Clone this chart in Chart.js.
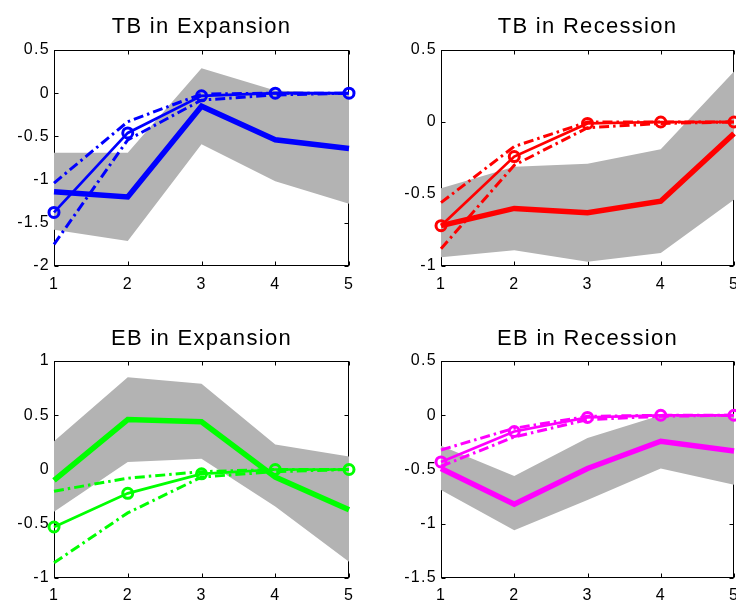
<!DOCTYPE html>
<html><head><meta charset="utf-8">
<script src="https://cdn.jsdelivr.net/npm/chart.js@4/dist/chart.umd.min.js"></script>
<style>
html,body{margin:0;padding:0;background:#fff;overflow:hidden;width:736px;height:601px;position:relative}
canvas{position:absolute}
</style></head><body>
<canvas id="c1" width="368" height="300" style="left:0px;top:0px"></canvas>
<canvas id="c2" width="400" height="300" style="left:366px;top:0px"></canvas>
<canvas id="c3" width="368" height="340" style="left:0px;top:300px"></canvas>
<canvas id="c4" width="400" height="340" style="left:366px;top:300px"></canvas>
<script>
const horizons = [1, 2, 3, 4, 5];

// TB in Expansion
const tbExpMean     = [-1.14, -1.20, -0.15, -0.54, -0.64];
const tbExpLow      = [-1.58, -1.71, -0.59, -1.02, -1.28];
const tbExpHigh     = [-0.69, -0.69,  0.29,  0.03,  0.00];
const tbExpCirc     = [-1.38, -0.46, -0.03,  0.00,  0.00];
const tbExpDashHigh = [-1.04, -0.33, -0.01,  0.00,  0.00];
const tbExpDashLow  = [-1.75, -0.54, -0.08, -0.02,  0.00];
const tbExpTicks    = [-2, -1.5, -1, -0.5, 0, 0.5];

// TB in Recession
const tbRecMean     = [-0.72, -0.60, -0.63, -0.55, -0.08];
const tbRecLow      = [-0.94, -0.89, -0.97, -0.91, -0.54];
const tbRecHigh     = [-0.46, -0.31, -0.29, -0.19,  0.35];
const tbRecCirc     = [-0.72, -0.24, -0.01,  0.00,  0.00];
const tbRecDashHigh = [-0.56, -0.17,  0.00,  0.00,  0.00];
const tbRecDashLow  = [-0.88, -0.30, -0.04, -0.01,  0.00];
const tbRecTicks    = [-1, -0.5, 0, 0.5];

// EB in Expansion
const ebExpMean     = [-0.10,  0.46,  0.44, -0.07, -0.37];
const ebExpLow      = [-0.39,  0.07,  0.10, -0.34, -0.85];
const ebExpHigh     = [ 0.26,  0.85,  0.79,  0.23,  0.12];
const ebExpCirc     = [-0.53, -0.22, -0.04,  0.00,  0.00];
const ebExpDashHigh = [-0.20, -0.08, -0.02,  0.00,  0.00];
const ebExpDashLow  = [-0.86, -0.40, -0.07, -0.02,  0.00];
const ebExpTicks    = [-1, -0.5, 0, 0.5, 1];

// EB in Recession
const ebRecMean     = [-0.49, -0.82, -0.49, -0.24, -0.33];
const ebRecLow      = [-0.69, -1.06, -0.78, -0.49, -0.64];
const ebRecHigh     = [-0.28, -0.56, -0.21,  0.00,  0.00];
const ebRecCirc     = [-0.43, -0.15, -0.02,  0.00,  0.00];
const ebRecDashHigh = [-0.32, -0.12, -0.01,  0.00,  0.00];
const ebRecDashLow  = [-0.47, -0.20, -0.04, -0.01,  0.00];
const ebRecTicks    = [-1.5, -1, -0.5, 0, 0.5];

const FONT = "'Liberation Sans', Arial, Helvetica, sans-serif";
Chart.defaults.font.family = FONT;
Chart.defaults.color = '#000';

const pts = arr => arr.map((v, i) => ({x: horizons[i], y: v}));

const spacingPlugin = {
  id: 'spacing',
  beforeLayout(c) { c.ctx.letterSpacing = '1.3px'; },
  beforeDraw(c) { c.ctx.letterSpacing = '1.3px'; }
};

const boxPlugin = {
  id: 'box',
  beforeDatasetsDraw(chart) {
    const ctx = chart.ctx, a = chart.chartArea;
    const xs = chart.scales.x, ys = chart.scales.y;
    const L = Math.round(a.left) + 0.5, R = Math.round(a.right) - 0.5;
    const T = Math.round(a.top) + 0.5, B = Math.round(a.bottom) - 0.5;
    ctx.save();
    ctx.strokeStyle = '#000';
    ctx.lineWidth = 1;
    ctx.strokeRect(L, T, R - L, B - T);
    ctx.beginPath();
    ys.ticks.forEach(t => {
      const p = Math.round(ys.getPixelForValue(t.value)) + 0.5;
      ctx.moveTo(L, p); ctx.lineTo(L + 4, p);
      ctx.moveTo(R, p); ctx.lineTo(R - 4, p);
    });
    xs.ticks.forEach(t => {
      const p = Math.round(xs.getPixelForValue(t.value)) + 0.5;
      ctx.moveTo(p, B); ctx.lineTo(p, B - 4);
      ctx.moveTo(p, T); ctx.lineTo(p, T + 4);
    });
    ctx.stroke();
    ctx.restore();
  }
};

function makeChart(id, title, color, d, yTicks, geo) {
  const dash = [10, 4, 2.5, 4];
  new Chart(document.getElementById(id), {
    type: 'line',
    data: {
      datasets: [
        {data: pts(d.circ), borderColor: color, borderWidth: 2.7, pointRadius: 5,
         pointBorderWidth: 3, pointBorderColor: color, pointBackgroundColor: 'rgba(0,0,0,0)',
         pointHoverRadius: 0, order: 1, clip: false, fill: false},
        {data: pts(d.dashHigh), borderColor: color, borderWidth: 3, borderDash: dash,
         pointRadius: 0, order: 2, clip: false, fill: false},
        {data: pts(d.dashLow), borderColor: color, borderWidth: 3, borderDash: dash,
         pointRadius: 0, order: 2, clip: false, fill: false},
        {data: pts(d.mean), borderColor: color, borderWidth: 5.5, pointRadius: 0,
         order: 3, clip: false, fill: false},
        {data: pts(d.low), borderWidth: 0, borderColor: 'rgba(0,0,0,0)', pointRadius: 0,
         order: 10, fill: false},
        {data: pts(d.high), borderWidth: 0, borderColor: 'rgba(0,0,0,0)', pointRadius: 0,
         order: 9, fill: '-1', backgroundColor: '#b3b3b3'}
      ]
    },
    options: {
      responsive: false,
      animation: false,
      devicePixelRatio: 1,
      events: [],
      layout: {padding: {left: 0, top: 0, bottom: 0, right: geo.padRight}},
      plugins: {
        legend: {display: false},
        tooltip: {enabled: false},
        title: {display: true, text: title, fullSize: false, color: '#000',
                font: {size: 22, weight: 'normal', family: FONT},
                padding: {top: geo.tTop, bottom: geo.tBottom}}
      },
      scales: {
        x: {
          type: 'linear', min: 1, max: 5,
          grid: {display: false, drawTicks: false, tickLength: 0}, border: {display: false},
          afterBuildTicks: s => { s.ticks = horizons.map(v => ({value: v})); },
          afterFit: s => { s.height = geo.xHeight; },
          ticks: {font: {size: 16, family: FONT}, color: '#000', padding: geo.xPad,
                  maxRotation: 0, autoSkip: false, callback: v => String(v)}
        },
        y: {
          type: 'linear', min: yTicks[0], max: yTicks[yTicks.length - 1],
          grid: {display: false, drawTicks: false, tickLength: 0}, border: {display: false},
          afterBuildTicks: s => { s.ticks = yTicks.map(v => ({value: v})); },
          afterFit: s => { s.width = geo.yWidth; },
          ticks: {font: {size: 16, family: FONT}, color: '#000', padding: 4,
                  autoSkip: false, callback: v => String(v)}
        }
      }
    },
    plugins: [spacingPlugin, boxPlugin]
  });
}

const topGeoL = {yWidth: 54, xHeight: 34, padRight: 19, tTop: 13.8, tBottom: 9.8, xPad: 9};
const topGeoR = {yWidth: 75, xHeight: 34, padRight: 32, tTop: 13.8, tBottom: 9.8, xPad: 9};
const botGeoL = {yWidth: 54, xHeight: 62, padRight: 19, tTop: 25.8, tBottom: 8.8, xPad: 8};
const botGeoR = {yWidth: 75, xHeight: 62, padRight: 32, tTop: 25.8, tBottom: 8.8, xPad: 8};

makeChart('c1', 'TB in Expansion', '#0000ff',
  {mean: tbExpMean, low: tbExpLow, high: tbExpHigh, circ: tbExpCirc, dashHigh: tbExpDashHigh, dashLow: tbExpDashLow},
  tbExpTicks, topGeoL);
makeChart('c2', 'TB in Recession', '#ff0000',
  {mean: tbRecMean, low: tbRecLow, high: tbRecHigh, circ: tbRecCirc, dashHigh: tbRecDashHigh, dashLow: tbRecDashLow},
  tbRecTicks, topGeoR);
makeChart('c3', 'EB in Expansion', '#00ff00',
  {mean: ebExpMean, low: ebExpLow, high: ebExpHigh, circ: ebExpCirc, dashHigh: ebExpDashHigh, dashLow: ebExpDashLow},
  ebExpTicks, botGeoL);
makeChart('c4', 'EB in Recession', '#ff00ff',
  {mean: ebRecMean, low: ebRecLow, high: ebRecHigh, circ: ebRecCirc, dashHigh: ebRecDashHigh, dashLow: ebRecDashLow},
  ebRecTicks, botGeoR);
</script>
</body></html>
